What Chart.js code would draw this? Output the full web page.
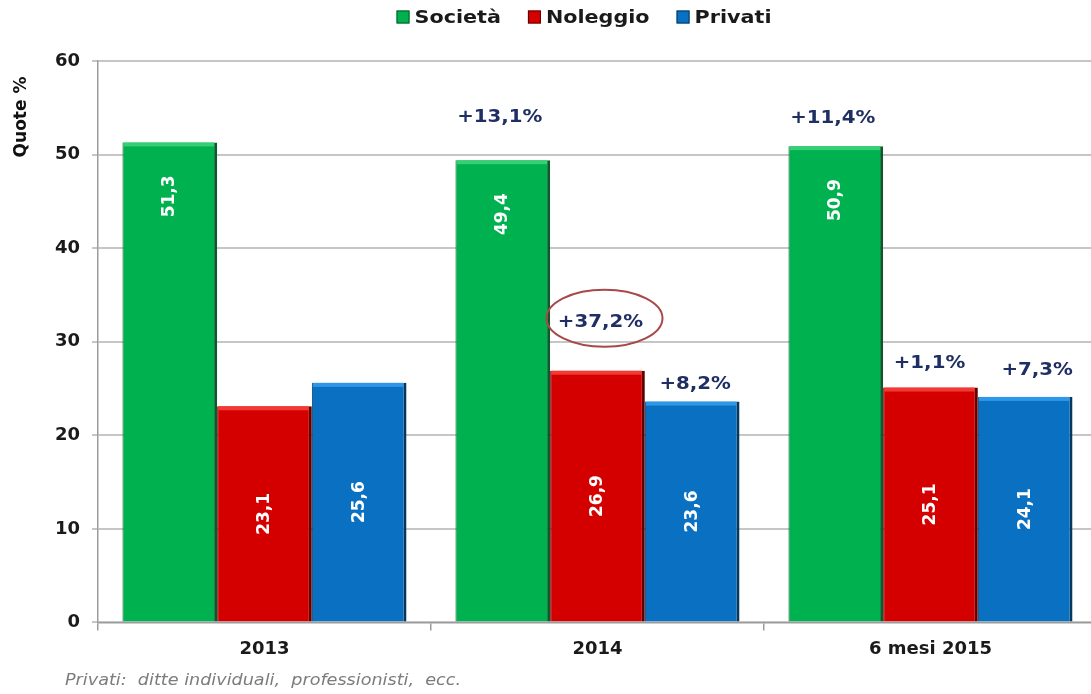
<!DOCTYPE html>
<html>
<head>
<meta charset="utf-8">
<script src="https://cdn.jsdelivr.net/npm/chart.js@4.4.0/dist/chart.umd.min.js"></script>
<style>
html, body { margin: 0; padding: 0; background: #fff; overflow: hidden; }
#wrap { width: 1100px; height: 694px; }
</style>
</head>
<body>
<div id="wrap"><canvas id="barChart" width="1100" height="694"></canvas></div>
<script>
// data
var categories = ["2013", "2014", "6 mesi 2015"];
var societa = [51.3, 49.4, 50.9];
var noleggio = [23.1, 26.9, 25.1];
var privati = [25.6, 23.6, 24.1];
var growthSocieta = ["", "+13,1%", "+11,4%"];
var growthNoleggio = ["", "+37,2%", "+1,1%"];
var growthPrivati = ["", "+8,2%", "+7,3%"];
var yTicks = [0, 10, 20, 30, 40, 50, 60];
var yTitle = "Quote %";
var footnote = "Privati:  ditte individuali,  professionisti,  ecc.";

var FONT = "'DejaVu Sans', Verdana, sans-serif";
Chart.defaults.font.family = FONT;

function fmt(v) {
    return v.toFixed(1).replace(".", ",");
}

// labels inside/above the bars, legend, titles
var decor = {
    id: "decor",
    afterDatasetsDraw: function (chart, args, opts) {
        var c = chart.ctx;
        chart.data.datasets.forEach(function (ds, di) {
            var meta = chart.getDatasetMeta(di);
            meta.data.forEach(function (bar, i) {
                var left = bar.x - bar.width / 2;
                c.save();
                c.fillStyle = ds.topColor;
                c.fillRect(left + 1, bar.y, bar.width - 4, 4);
                c.restore();

                var txt = fmt(ds.data[i]);
                c.save();
                c.font = "bold 17px " + FONT;
                var w = c.measureText(txt).width;
                var y = ds.labelPos === "end" ? bar.y + 33 + w / 2 : (bar.y + bar.base) / 2;
                c.translate(bar.x, y);
                c.rotate(-Math.PI / 2);
                c.fillStyle = "#ffffff";
                c.textAlign = "center";
                c.textBaseline = "middle";
                c.fillText(txt, 0, 0);
                c.restore();

                var g = ds.growth[i];
                if (g) {
                    var off = opts.growthOffsets[di][i];
                    var gx = bar.x + off[0];
                    var gy = bar.y + off[1];
                    c.save();
                    c.translate(gx, gy);
                    c.scale(1.1, 1);
                    c.font = "bold 18px " + FONT;
                    c.fillStyle = "#1f2f63";
                    c.textAlign = "center";
                    c.textBaseline = "middle";
                    c.fillText(g, 0, 0);
                    c.restore();
                    var r = opts.ring;
                    if (r.dataset === di && r.index === i) {
                        c.save();
                        c.beginPath();
                        c.ellipse(gx + r.dx, gy + r.dy, r.rx, r.ry, 0, 0, Math.PI * 2);
                        c.strokeStyle = r.color;
                        c.lineWidth = 2;
                        c.stroke();
                        c.restore();
                    }
                }
            });
        });
    },
    afterDraw: function (chart, args, opts) {
        var c = chart.ctx;
        // legend
        var sx = 1.15, box = 13, gapBox = 5, gapItem = 27;
        c.save();
        c.font = "bold 18px " + FONT;
        var items = chart.data.datasets;
        var widths = items.map(function (ds) { return c.measureText(ds.label).width * sx; });
        var total = 0;
        widths.forEach(function (w) { total += box + gapBox + w; });
        total += gapItem * (items.length - 1);
        var x = opts.legendCenter - total / 2;
        var ly = opts.legendY;
        items.forEach(function (ds, k) {
            c.fillStyle = ds.backgroundColor;
            c.fillRect(x, ly - box / 2, box, box);
            c.strokeStyle = ds.borderColor;
            c.lineWidth = 1;
            c.strokeRect(x + 0.5, ly - box / 2 + 0.5, box - 1, box - 1);
            x += box + gapBox;
            c.save();
            c.translate(x, ly);
            c.scale(sx, 1);
            c.fillStyle = "#1a1a1a";
            c.textAlign = "left";
            c.textBaseline = "middle";
            c.fillText(ds.label, 0, 1);
            c.restore();
            x += widths[k] + gapItem;
        });
        c.restore();

        // y title
        c.save();
        c.translate(22, 117);
        c.rotate(-Math.PI / 2);
        c.font = "bold 17px " + FONT;
        c.fillStyle = "#111111";
        c.textAlign = "center";
        c.textBaseline = "middle";
        c.fillText(yTitle, 0, 0);
        c.restore();

        // footnote
        c.save();
        c.translate(65, 681);
        c.scale(1.1, 1);
        c.font = "italic 16px " + FONT;
        c.fillStyle = "#7c7c7c";
        c.textAlign = "left";
        c.textBaseline = "middle";
        c.fillText(footnote, 0, 0);
        c.restore();
    }
};

var ctx = document.getElementById("barChart").getContext("2d");

var myChart = new Chart(ctx, {
    type: "bar",
    data: {
        labels: categories,
        datasets: [
            {
                label: "Società",
                data: societa,
                growth: growthSocieta,
                labelPos: "end",
                backgroundColor: "#00b14f",
                topColor: "#38cf74",
                borderColor: "#0a5a2b",
                borderWidth: { left: 1, right: 3, top: 0, bottom: 0 },
                borderSkipped: false,
            },
            {
                label: "Noleggio",
                data: noleggio,
                growth: growthNoleggio,
                labelPos: "center",
                backgroundColor: "#d40000",
                topColor: "#f23a35",
                borderColor: "#5e0000",
                borderWidth: { left: 1, right: 3, top: 0, bottom: 0 },
                borderSkipped: false,
            },
            {
                label: "Privati",
                data: privati,
                growth: growthPrivati,
                labelPos: "center",
                backgroundColor: "#0a70c2",
                topColor: "#2f97e8",
                borderColor: "#06385f",
                borderWidth: { left: 1, right: 3, top: 0, bottom: 0 },
                borderSkipped: false,
            },
        ],
    },
    options: {
        responsive: false,
        animation: false,
        layout: {
            padding: { top: 61, right: 3, bottom: 26, left: 0 },
        },
        datasets: {
            bar: {
                categoryPercentage: 0.853,
                barPercentage: 1,
            },
        },
        plugins: {
            legend: false,
            tooltip: false,
            decor: {
                legendCenter: 584,
                legendY: 17,
                growthOffsets: [
                    [null, [-3, -43], [-3, -28]],
                    [null, [3, -48], [-1, -24]],
                    [null, [3, -17], [12, -27]],
                ],
                ring: { dataset: 1, index: 1, dx: 4, dy: -4.5, rx: 58, ry: 28.5, color: "#a84848" },
            },
        },
        scales: {
            x: {
                grid: {
                    drawOnChartArea: false,
                    tickLength: 8,
                    color: "#9c9c9c",
                    lineWidth: 1.5,
                },
                border: { color: "#9c9c9c", width: 1.5 },
                ticks: {
                    color: "#1a1a1a",
                    padding: 8,
                    font: { size: 18, weight: "bold" },
                },
            },
            y: {
                min: 0,
                max: 60,
                afterFit: function (scale) {
                    scale.width = 98;
                },
                afterBuildTicks: function (scale) {
                    scale.ticks = yTicks.map(function (v) { return { value: v }; });
                },
                grid: {
                    color: "#c6c6c6",
                    lineWidth: 2,
                    tickLength: 6,
                },
                border: { color: "#9c9c9c", width: 1.5 },
                ticks: {
                    color: "#1a1a1a",
                    padding: 12,
                    font: { size: 18, weight: "bold" },
                },
            },
        },
    },
    plugins: [decor],
});
</script>
</body>
</html>
